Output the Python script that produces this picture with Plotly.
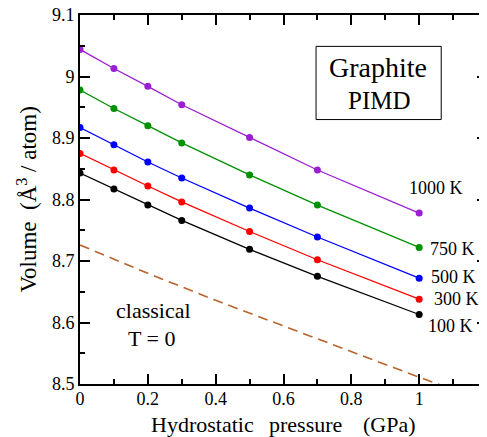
import plotly.graph_objects as go

pressure = [0.0, 0.1, 0.2, 0.3, 0.5, 0.7, 1.0]
v_1000K = [9.044, 9.013, 8.984, 8.954, 8.901, 8.848, 8.778]
v_750K = [8.978, 8.948, 8.920, 8.892, 8.840, 8.791, 8.722]
v_500K = [8.917, 8.889, 8.861, 8.835, 8.786, 8.739, 8.672]
v_300K = [8.875, 8.848, 8.822, 8.796, 8.748, 8.702, 8.638]
v_100K = [8.843, 8.817, 8.791, 8.766, 8.719, 8.675, 8.613]

classical_p = [0.0, 0.2, 0.4, 0.6, 0.8, 1.0, 1.2]
classical_v = [8.726, 8.680, 8.636, 8.594, 8.552, 8.511, 8.471]

series_labels = ["1000 K", "750 K", "500 K", "300 K", "100 K"]
x_tickvals = [0, 0.2, 0.4, 0.6, 0.8, 1.0]
x_ticktext = ["0", "0.2", "0.4", "0.6", "0.8", "1"]
y_tickvals = [8.5, 8.6, 8.7, 8.8, 8.9, 9.0, 9.1]
y_ticktext = ["8.5", "8.6", "8.7", "8.8", "8.9", "9", "9.1"]
x_title_words = ["Hydrostatic", "pressure", "(GPa)"]

FONT = "Liberation Serif, Times New Roman, serif"
colors = ["rgb(155,30,210)", "rgb(0,145,0)", "rgb(0,0,255)", "rgb(255,0,0)", "rgb(0,0,0)"]
series = [v_1000K, v_750K, v_500K, v_300K, v_100K]

fig = go.Figure()

fig.add_trace(go.Scatter(
    x=classical_p, y=classical_v, mode="lines",
    line=dict(color="rgb(185,100,45)", width=1.6, dash="10px,6px"),
    showlegend=False, hoverinfo="skip"))

for vals, col, name in zip(series, colors, series_labels):
    fig.add_trace(go.Scatter(
        x=pressure, y=vals, mode="lines+markers", name=name,
        line=dict(color=col, width=1.3),
        marker=dict(color=col, size=7),
        showlegend=False))

# series labels
label_pos = [(0.964, 8.818), (1.0275, 8.720), (1.0295, 8.6735), (1.0375, 8.639), (1.0197, 8.594)]
for (lx, ly), name in zip(label_pos, series_labels):
    fig.add_annotation(x=lx, y=ly, xref="x", yref="y", text=name, showarrow=False,
                       xanchor="left", yanchor="middle",
                       font=dict(family=FONT, size=18, color="black"))

fig.add_annotation(x=0.218, y=8.620, text="classical", showarrow=False,
                   xanchor="center", yanchor="middle",
                   font=dict(family=FONT, size=22, color="black"))
fig.add_annotation(x=0.212, y=8.574, text="T = 0", showarrow=False,
                   xanchor="center", yanchor="middle",
                   font=dict(family=FONT, size=22, color="black"))

# Graphite PIMD box
fig.add_shape(type="rect", xref="x", yref="y", x0=0.696, x1=1.065, y0=8.930, y1=9.049,
              line=dict(color="black", width=1), fillcolor="white", layer="above")
fig.add_annotation(x=0.880, y=9.015, text="Graphite", showarrow=False,
                   xanchor="center", yanchor="middle",
                   font=dict(family=FONT, size=28, color="black"))
fig.add_annotation(x=0.883, y=8.961, text="PIMD", showarrow=False,
                   xanchor="center", yanchor="middle",
                   font=dict(family=FONT, size=25, color="black"))

# x axis title, word by word (wide word spacing as in the original)
for wx, word in zip([0.301, 0.5548, 0.7597], x_title_words):
    fig.add_annotation(x=wx, y=-0.111, xref="paper", yref="paper",
                       text=word, showarrow=False,
                       xanchor="center", yanchor="middle",
                       font=dict(family=FONT, size=22, color="black"))
fig.add_annotation(x=-0.130, y=0.5, xref="paper", yref="paper", textangle=-90,
                   text="Volume\u2002(Å<sup>3</sup>\u00a0/\u00a0atom)", showarrow=False,
                   xanchor="center", yanchor="middle",
                   font=dict(family=FONT, size=23, color="black"))

axis_common = dict(
    showline=True, linecolor="black", linewidth=2, mirror="allticks",
    ticks="inside", ticklen=10, tickwidth=1.5, tickcolor="black",
    showgrid=False, zeroline=False, automargin=False,
    ticklabeloverflow="allow",
    tickfont=dict(family=FONT, size=18, color="black"),
)

fig.update_xaxes(
    range=[0, 1.2], tickmode="array", tickvals=x_tickvals, ticktext=x_ticktext,
    ticklabelstandoff=-3,
    minor=dict(dtick=0.1, tick0=0, ticks="inside", ticklen=5, tickwidth=1.5, tickcolor="black", showgrid=False),
    **axis_common)
fig.update_yaxes(
    range=[8.5, 9.1], tickmode="array", tickvals=y_tickvals, ticktext=y_ticktext,
    minor=dict(dtick=0.05, tick0=8.5, ticks="inside", ticklen=5, tickwidth=1.5, tickcolor="black", showgrid=False),
    **axis_common)

# the page body adds an 8 px offset, so margins are shifted to compensate
fig.update_layout(
    width=487, height=437,
    margin=dict(l=72, r=8, t=7, b=61, autoexpand=False),
    plot_bgcolor="white", paper_bgcolor="white",
    showlegend=False,
)

fig.write_html("out.html")
